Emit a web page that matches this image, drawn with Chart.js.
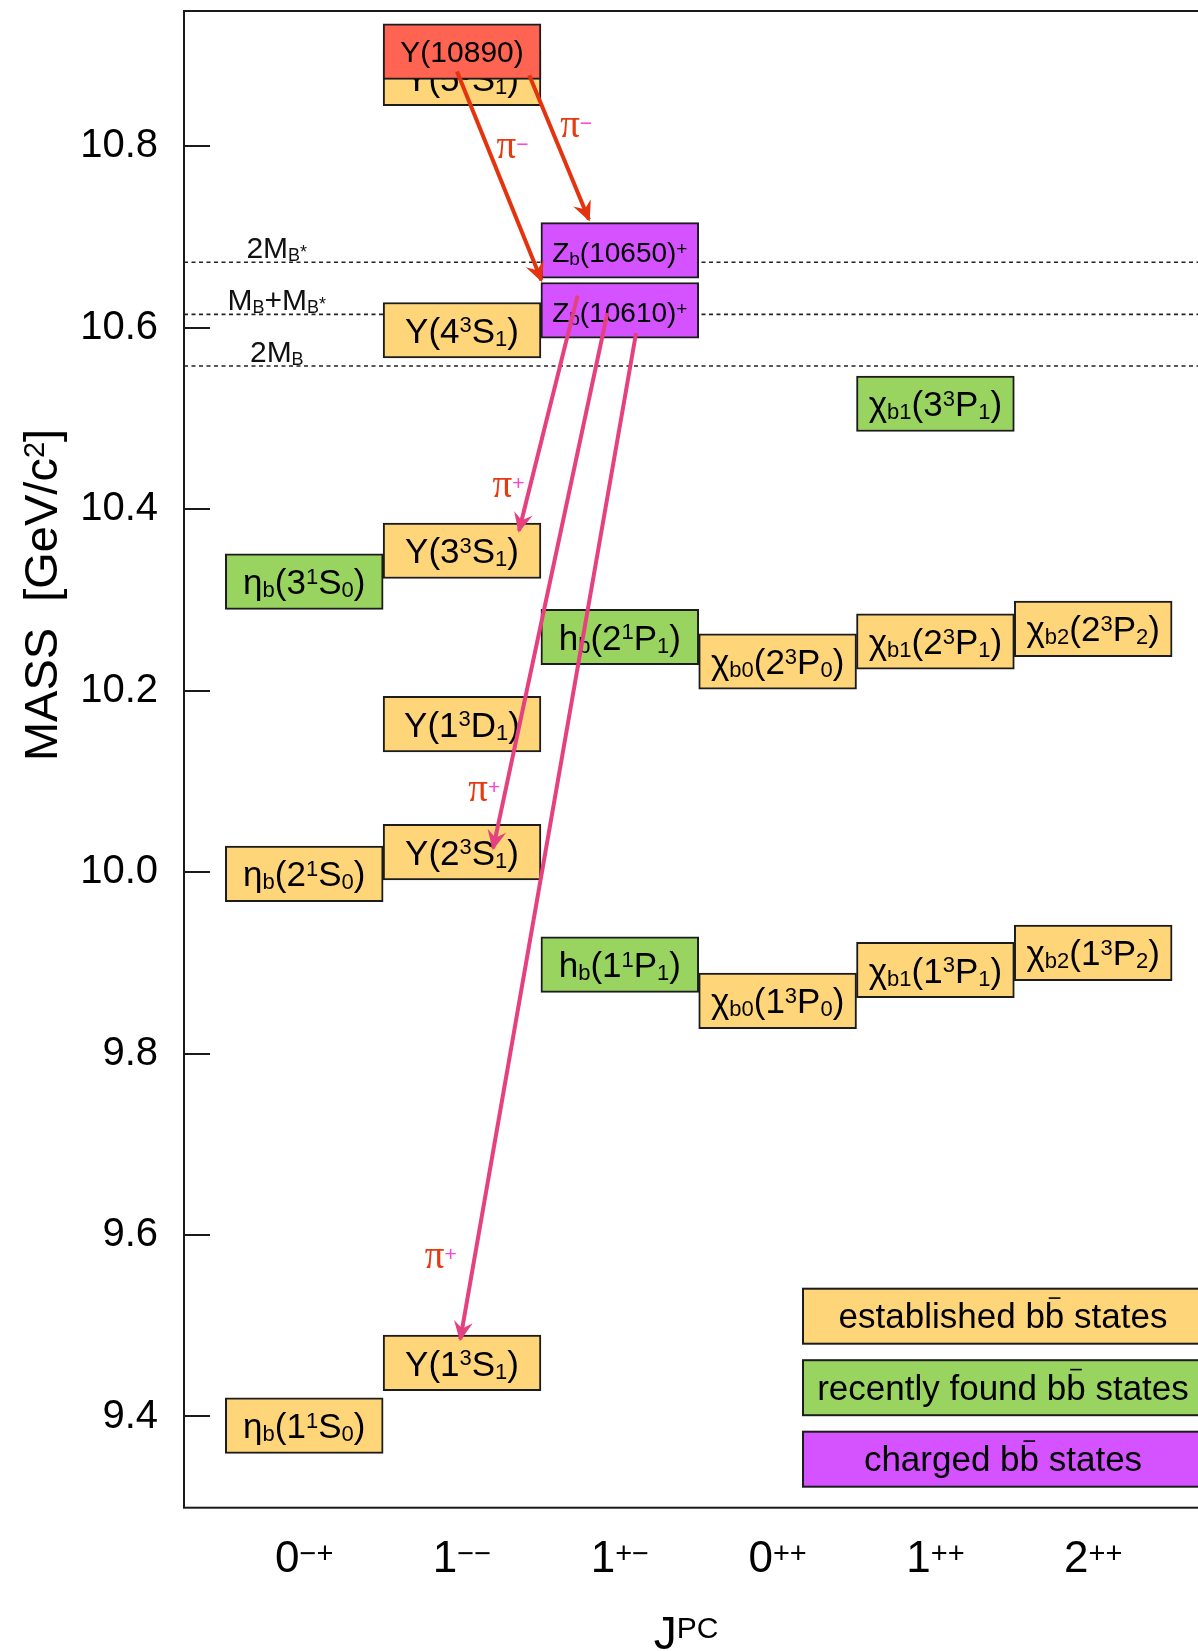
<!DOCTYPE html>
<html>
<head>
<meta charset="utf-8">
<script src="https://cdn.jsdelivr.net/npm/chart.js@4/dist/chart.umd.min.js"></script>
<style>
  html, body { margin: 0; padding: 0; overflow: hidden; background: #fff; }
  #wrap { position: relative; width: 1260px; height: 1651px; }
</style>
</head>
<body>
<div id="wrap"><canvas id="spectrum" width="1260" height="1651"></canvas></div>
<script>
// ---- J^PC columns and mass ticks ----
const jpcLabels = ['0^{−+}', '1^{−−}', '1^{+−}', '0^{++}', '1^{++}', '2^{++}'];
const massTicks = [9.4, 9.6, 9.8, 10.0, 10.2, 10.4, 10.6, 10.8];

// ---- bottomonium levels (GeV/c^2) ----
const stateNames = [
  'η_{b}(1^{1}S_{0})', 'η_{b}(2^{1}S_{0})',
  'Υ(1^{3}S_{1})', 'Υ(2^{3}S_{1})', 'Υ(1^{3}D_{1})', 'Υ(3^{3}S_{1})', 'Υ(4^{3}S_{1})', 'Υ(5^{3}S_{1})',
  'χ_{b0}(1^{3}P_{0})', 'χ_{b0}(2^{3}P_{0})',
  'χ_{b1}(1^{3}P_{1})', 'χ_{b1}(2^{3}P_{1})',
  'χ_{b2}(1^{3}P_{2})', 'χ_{b2}(2^{3}P_{2})',
  'η_{b}(3^{1}S_{0})', 'h_{b}(1^{1}P_{1})', 'h_{b}(2^{1}P_{1})', 'χ_{b1}(3^{3}P_{1})',
  'Z_{b}(10610)^{+}', 'Z_{b}(10650)^{+}',
  'Υ(10890)'
];
const stateColumn = [0, 0, 1, 1, 1, 1, 1, 1, 3, 3, 4, 4, 5, 5, 0, 2, 2, 4, 2, 2, 1];
const stateMass = [
  9.390, 9.998,
  9.459, 10.022, 10.163, 10.354, 10.597, 10.875,
  9.858, 10.232,
  9.892, 10.254,
  9.911, 10.268,
  10.320, 9.898, 10.259, 10.516,
  10.619, 10.685,
  10.904
];
const stateKind = [
  'established', 'established',
  'established', 'established', 'established', 'established', 'established', 'established',
  'established', 'established', 'established', 'established', 'established', 'established',
  'recent', 'recent', 'recent', 'recent',
  'charged', 'charged',
  'highlight'
];
const kindNames = ['established', 'recent', 'charged', 'highlight'];
const legendTexts = ['established b={b} states', 'recently found b={b} states', 'charged b={b} states'];

// ---- open-bottom thresholds ----
const thresholdNames = ['2M_{B}^{*}', 'M_{B}+M_{B}^{*}', '2M_{B}'];
const thresholdMass = [10.672, 10.6145, 10.5576];

// ---- pion transitions (column position, mass) ----
const transFromCol  = [0.968, 1.426, 1.732, 1.921, 2.103];
const transFromMass = [10.882, 10.878, 10.635, 10.616, 10.594];
const transToCol    = [1.503, 1.804, 1.361, 1.197, 0.989];
const transToMass   = [10.652, 10.719, 10.376, 10.026, 9.485];
const transPion     = ['π^{−}', 'π^{−}', 'π^{+}', 'π^{+}', 'π^{+}'];
const pionLabelCol  = [1.219, 1.622, 1.193, 1.040, 0.764];
const pionLabelMass = [10.787, 10.810, 10.413, 10.078, 9.564];

// ---- styling ----
const SANS = '"Liberation Sans", Arial, Helvetica, sans-serif';
const SERIF = '"Liberation Serif", "Times New Roman", serif';
const X_MIN = -0.762, X_MAX = 6.0;
const Y_MIN = 9.2995, Y_MAX = 10.9488;
const LEVEL_HALF = 0.0306;
const kindStyle = {
  established: { bg: '#FFD57A', order: 40, size: 35, small: 22, shift: 0 },
  recent:      { bg: '#98D45F', order: 39, size: 35, small: 22, shift: 0 },
  charged:     { bg: '#D452FF', order: 38, size: 28, small: 19, shift: 2 },
  highlight:   { bg: '#FF6352', order: 37, size: 30, small: 19, shift: 0 }
};
const RED_ARROW = '#E3330F';
const PINK_ARROW = '#E5407F';
const PI_COLOR = '#E63A10';
const PI_SIGN_COLOR = '#FF40D0';

// ---- rich text: ^{} superscript, _{} subscript, ={} overline ----
function parseRich(s) {
  const out = [];
  const re = /([\^_=])\{([^}]*)\}|([^\^_=]+)/g;
  let m;
  while ((m = re.exec(s)) !== null) {
    if (m[3] !== undefined) out.push({ t: m[3], k: 'n' });
    else out.push({ t: m[2], k: m[1] === '^' ? 'sup' : (m[1] === '_' ? 'sub' : 'over') });
  }
  return out;
}
function drawRich(ctx, str, x, y, o) {
  const segs = parseRich(str);
  const fam = o.family || SANS;
  const supFam = o.supFamily || fam;
  const fontOf = k => k === 'sup' ? `${o.small}px ${supFam}` : (k === 'sub' ? `${o.small}px ${fam}` : `${o.size}px ${fam}`);
  const widths = segs.map(s => { ctx.font = fontOf(s.k); return ctx.measureText(s.t).width; });
  const total = widths.reduce((a, b) => a + b, 0);
  let cx = o.align === 'center' ? x - total / 2 : (o.align === 'right' ? x - total : x);
  ctx.textAlign = 'left';
  ctx.textBaseline = 'alphabetic';
  segs.forEach((s, i) => {
    let yy = y;
    let color = o.color || '#000';
    if (s.k === 'sup') { yy = y - (o.rise || 0); color = o.supColor || color; }
    else if (s.k === 'sub') { yy = y + (o.drop || 0); }
    ctx.font = fontOf(s.k);
    ctx.fillStyle = color;
    ctx.fillText(s.t, cx, yy);
    if (s.k === 'over') {
      ctx.strokeStyle = color;
      ctx.lineWidth = 1.6;
      ctx.beginPath();
      ctx.moveTo(cx + widths[i] * 0.2, y - o.size * 0.86);
      ctx.lineTo(cx + widths[i] * 0.8, y - o.size * 0.86);
      ctx.stroke();
    }
    cx += widths[i];
  });
}

// ---- datasets ----
const thresholdSets = thresholdMass.map((m, i) => ({
  type: 'line',
  label: thresholdNames[i],
  order: 50,
  data: [{ x: X_MIN, y: m }, { x: X_MAX, y: m }],
  borderColor: '#222',
  borderWidth: 1.6,
  borderDash: [4, 3.5],
  pointRadius: 0,
  fill: false,
  tension: 0
}));

const levelSets = kindNames.map(kind => {
  const idx = stateKind.map((k, i) => (k === kind ? i : -1)).filter(i => i >= 0);
  const st = kindStyle[kind];
  return {
    type: 'bar',
    label: kind,
    kind: kind,
    order: st.order,
    grouped: false,
    barPercentage: 1,
    categoryPercentage: 1,
    backgroundColor: st.bg,
    borderColor: '#1c1c1c',
    borderWidth: 2,
    borderSkipped: false,
    data: idx.map(i => ({ x: stateColumn[i], y: [stateMass[i] - LEVEL_HALF, stateMass[i] + LEVEL_HALF] })),
    names: idx.map(i => stateNames[i])
  };
});

const transitionSets = transPion.map((p, i) => {
  const col = p.indexOf('−') >= 0 ? RED_ARROW : PINK_ARROW;
  return {
    type: 'line',
    label: p,
    order: 10,
    arrow: true,
    data: [{ x: transFromCol[i], y: transFromMass[i] }, { x: transToCol[i], y: transToMass[i] }],
    borderColor: col,
    borderWidth: 4,
    pointRadius: 0,
    fill: false,
    tension: 0
  };
});

// ---- drawing helpers on top of the chart ----
const levelArt = {
  id: 'levelArt',
  beforeDatasetsDraw(chart) {
    const { ctx, chartArea: a, scales: { y } } = chart;
    ctx.save();
    ctx.strokeStyle = '#1a1a1a';
    ctx.lineWidth = 2;
    ctx.strokeRect(a.left, a.top, a.right - a.left, a.bottom - a.top);
    massTicks.forEach(v => {
      const py = Math.round(y.getPixelForValue(v));
      ctx.beginPath();
      ctx.moveTo(a.left, py);
      ctx.lineTo(a.left + 26, py);
      ctx.stroke();
    });
    ctx.restore();
  },
  afterDatasetDraw(chart, args) {
    const ds = chart.data.datasets[args.index];
    const ctx = chart.ctx;
    const meta = args.meta;
    ctx.save();
    if (ds.names) {
      const st = kindStyle[ds.kind];
      meta.data.forEach((el, i) => {
        const cy = (el.y + el.base) / 2;
        drawRich(ctx, ds.names[i], el.x, cy + st.size * 0.36 + st.shift, {
          size: st.size, small: st.small, align: 'center',
          rise: 0.72 * (st.size - st.small) + 1, drop: 3, color: '#000'
        });
      });
    }
    if (ds.arrow && meta.data.length === 2) {
      const p0 = meta.data[0], p1 = meta.data[1];
      const dx = p1.x - p0.x, dy = p1.y - p0.y;
      const len = Math.hypot(dx, dy);
      const ux = dx / len, uy = dy / len;
      const nx = -uy, ny = ux;
      const L = 20, W = 9.5, N = 13;
      const tx = p1.x + ux * 2, ty = p1.y + uy * 2;
      ctx.fillStyle = ds.borderColor;
      ctx.beginPath();
      ctx.moveTo(tx, ty);
      ctx.lineTo(tx - ux * L + nx * W, ty - uy * L + ny * W);
      ctx.lineTo(tx - ux * N, ty - uy * N);
      ctx.lineTo(tx - ux * L - nx * W, ty - uy * L - ny * W);
      ctx.closePath();
      ctx.fill();
    }
    ctx.restore();
  },
  afterDatasetsDraw(chart) {
    const { ctx, scales: { x, y } } = chart;
    ctx.save();
    // threshold names just above their dashed lines
    thresholdNames.forEach((n, i) => {
      drawRich(ctx, n, x.getPixelForValue(-0.174), y.getPixelForValue(thresholdMass[i]) - 4, {
        size: 30, small: 18, align: 'center', rise: 0, drop: 3, color: '#111'
      });
    });
    // pion labels
    transPion.forEach((p, i) => {
      drawRich(ctx, p, x.getPixelForValue(pionLabelCol[i]), y.getPixelForValue(pionLabelMass[i]), {
        size: 39, small: 21, family: SERIF, supFamily: SANS, align: 'left',
        rise: 7, color: PI_COLOR, supColor: PI_SIGN_COLOR
      });
    });
    ctx.restore();
  },
  afterDraw(chart) {
    const { ctx, chartArea: a, scales: { x } } = chart;
    ctx.save();
    // J^PC category labels
    jpcLabels.forEach((lab, i) => {
      drawRich(ctx, lab, x.getPixelForValue(i), a.bottom + 64, {
        size: 44, small: 29, align: 'center', rise: 9, color: '#000'
      });
    });
    // axis titles
    drawRich(ctx, 'J^{PC}', a.left + 502, a.bottom + 141, {
      size: 46, small: 30, align: 'center', rise: 11, color: '#000'
    });
    ctx.save();
    ctx.translate(57, 595);
    ctx.rotate(-Math.PI / 2);
    drawRich(ctx, 'MASS  [GeV/c^{2}]', 0, 0, {
      size: 47, small: 29, align: 'center', rise: 13, color: '#000'
    });
    ctx.restore();
    // legend boxes
    const legendSets = chart.data.datasets.filter(d => d.names && d.kind !== 'highlight');
    legendSets.forEach((d, i) => {
      const left = a.left + 619, top = a.bottom - 219 + i * 71.5, w = 400, h = 55;
      ctx.fillStyle = d.backgroundColor;
      ctx.fillRect(left, top, w, h);
      ctx.strokeStyle = '#1c1c1c';
      ctx.lineWidth = 2;
      ctx.strokeRect(left, top, w, h);
      drawRich(ctx, legendTexts[i], left + w / 2, top + 39.5, {
        size: 35, small: 21, align: 'center', color: '#000'
      });
    });
    ctx.restore();
  }
};

new Chart(document.getElementById('spectrum'), {
  type: 'bar',
  data: { datasets: [...thresholdSets, ...levelSets, ...transitionSets] },
  options: {
    responsive: false,
    animation: false,
    events: [],
    layout: { padding: { left: 0, top: 11, right: 9, bottom: 0 } },
    plugins: { legend: { display: false }, tooltip: { enabled: false } },
    scales: {
      x: {
        type: 'linear',
        min: X_MIN,
        max: X_MAX,
        offset: false,
        bounds: 'data',
        grid: { display: false, drawTicks: false, offset: false },
        border: { display: false },
        ticks: { display: false },
        afterBuildTicks: s => { s.ticks = jpcLabels.map((_, i) => ({ value: i })); },
        afterFit: s => { s.height = 143.3; s.paddingLeft = 0; s.paddingRight = 0; }
      },
      y: {
        type: 'linear',
        min: Y_MIN,
        max: Y_MAX,
        beginAtZero: false,
        bounds: 'data',
        grid: { display: false, drawTicks: false },
        border: { display: false },
        ticks: {
          autoSkip: false,
          padding: 26,
          color: '#000',
          font: { family: SANS, size: 40 },
          callback: v => Number(v).toFixed(1)
        },
        afterBuildTicks: s => { s.ticks = massTicks.map(v => ({ value: v })); },
        afterFit: s => { s.width = 184; s.paddingTop = 0; s.paddingBottom = 0; }
      }
    }
  },
  plugins: [levelArt]
});
</script>
</body>
</html>
